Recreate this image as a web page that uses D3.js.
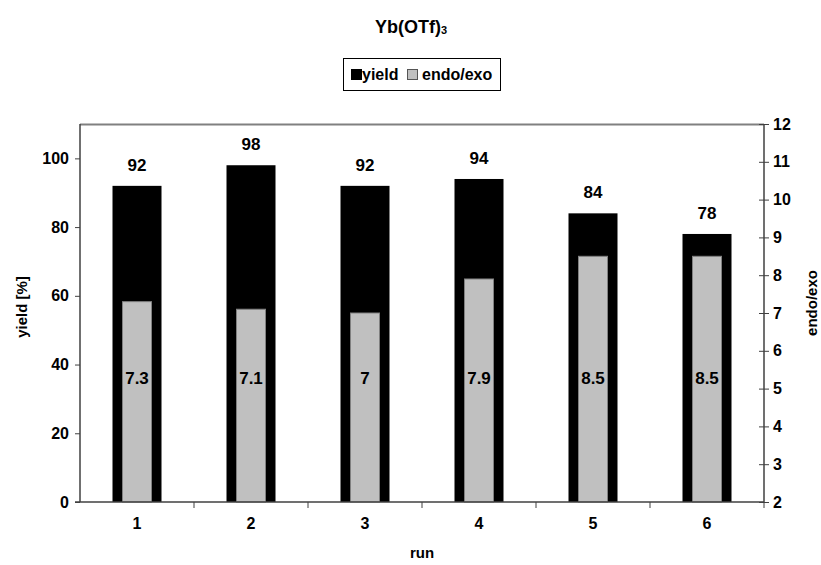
<!DOCTYPE html>
<html>
<head>
<meta charset="utf-8">
<script src="https://cdn.jsdelivr.net/npm/d3@7"></script>
<style>
  html, body { margin: 0; padding: 0; background: #fff; }
  svg { display: block; font-family: "Liberation Sans", Arial, sans-serif; font-weight: bold; }
</style>
</head>
<body>
<svg id="chart" width="821" height="565"></svg>
<script>
// Run numbers, yield (%) and endo/exo ratio per run
const runs = ["1", "2", "3", "4", "5", "6"];
const yieldValues = [92, 98, 92, 94, 84, 78];
const endoExoValues = [7.3, 7.1, 7, 7.9, 8.5, 8.5];
const yieldTicks = [0, 20, 40, 60, 80, 100];
const ratioTicks = [2, 3, 4, 5, 6, 7, 8, 9, 10, 11, 12];

const svg = d3.select("#chart");
const plot = { left: 80, right: 764, top: 124, bottom: 502 };

const x = d3.scaleBand().domain(runs).range([plot.left, plot.right]).paddingInner(0).paddingOuter(0);
const yLeft = d3.scaleLinear().domain([0, 110]).range([plot.bottom, plot.top]);
const yRight = d3.scaleLinear().domain([2, 12]).range([plot.bottom, plot.top]);

const blackW = 49, grayW = 29;

// Title with subscript
const title = svg.append("text").attr("x", 411).attr("y", 33)
  .attr("text-anchor", "middle").style("font-size", "18px");
title.append("tspan").text("Yb(OTf)");
title.append("tspan").attr("dy", 1).style("font-size", "11px").text("3");

// Legend
const lg = svg.append("g");
lg.append("rect").attr("x", 343.5).attr("y", 58.5).attr("width", 157).attr("height", 32)
  .attr("fill", "#fff").attr("stroke", "#000").attr("stroke-width", 1);
lg.append("rect").attr("x", 351).attr("y", 69).attr("width", 11).attr("height", 11).attr("fill", "#000");
lg.append("text").attr("x", 362).attr("y", 80).style("font-size", "16px").text("yield");
lg.append("rect").attr("x", 407.5).attr("y", 69.5).attr("width", 10).attr("height", 10)
  .attr("fill", "#c0c0c0").attr("stroke", "#555");
lg.append("text").attr("x", 422).attr("y", 80).style("font-size", "16px").text("endo/exo");

// Plot frame (top edge)
svg.append("line").attr("x1", plot.left).attr("x2", plot.right).attr("y1", plot.top + 0.5).attr("y2", plot.top + 0.5)
  .attr("stroke", "#808080").attr("stroke-width", 2);

// Yield bars
svg.append("g").selectAll("rect").data(runs).join("rect")
  .attr("x", d => x(d) + x.bandwidth() / 2 - blackW / 2)
  .attr("width", blackW)
  .attr("y", (d, i) => yLeft(yieldValues[i]))
  .attr("height", (d, i) => plot.bottom - yLeft(yieldValues[i]))
  .attr("fill", "#000");

// endo/exo bars (secondary axis)
svg.append("g").selectAll("rect").data(runs).join("rect")
  .attr("x", d => x(d) + x.bandwidth() / 2 - grayW / 2)
  .attr("width", grayW)
  .attr("y", (d, i) => yRight(endoExoValues[i]))
  .attr("height", (d, i) => plot.bottom - yRight(endoExoValues[i]))
  .attr("fill", "#c0c0c0").attr("stroke", "#808080").attr("stroke-width", 1);

// Yield value labels
svg.append("g").selectAll("text").data(runs).join("text")
  .attr("x", d => x(d) + x.bandwidth() / 2)
  .attr("y", (d, i) => yLeft(yieldValues[i]) - 15)
  .attr("text-anchor", "middle").style("font-size", "17px")
  .text((d, i) => yieldValues[i]);

// endo/exo value labels
svg.append("g").selectAll("text").data(runs).join("text")
  .attr("x", d => x(d) + x.bandwidth() / 2)
  .attr("y", 384)
  .attr("text-anchor", "middle").style("font-size", "17px")
  .text((d, i) => endoExoValues[i]);

// Left axis
const axL = svg.append("g").attr("transform", `translate(${plot.left},0)`)
  .call(d3.axisLeft(yLeft).tickValues(yieldTicks).tickSize(5).tickPadding(6));
// Right axis
const axR = svg.append("g").attr("transform", `translate(${plot.right},0)`)
  .call(d3.axisRight(yRight).tickValues(ratioTicks).tickSize(5).tickPadding(4));
axR.selectAll(".tick line").attr("x1", -5);
// Bottom axis with ticks between categories
const axB = svg.append("g").attr("transform", `translate(0,${plot.bottom})`)
  .call(d3.axisBottom(x).tickSize(0).tickPadding(16));
axB.selectAll(".tick text").attr("dy", "0.71em");
axB.append("g").selectAll("line").data(runs.slice(1).concat(["end"])).join("line")
  .attr("x1", (d, i) => plot.left + x.bandwidth() * (i + 1))
  .attr("x2", (d, i) => plot.left + x.bandwidth() * (i + 1))
  .attr("y1", 0).attr("y2", 6).attr("stroke", "#404040");

[axL, axR, axB].forEach(a => {
  a.select(".domain").attr("stroke", "#404040").attr("stroke-width", 1.5);
  a.selectAll(".tick line").attr("stroke", "#404040");
  a.selectAll(".tick text").attr("fill", "#000").style("font-size", "16px")
    .style("font-family", "'Liberation Sans', Arial, sans-serif").style("font-weight", "bold");
});
axL.select(".domain").attr("d", `M0,${plot.top}V${plot.bottom}`);
axR.select(".domain").attr("d", `M0,${plot.top}V${plot.bottom}`);
axB.select(".domain").attr("d", `M${plot.left - 5},0H${plot.right}`);

// Axis titles
svg.append("text").attr("transform", "translate(27,307) rotate(-90)")
  .attr("text-anchor", "middle").style("font-size", "15px").text("yield [%]");
svg.append("text").attr("transform", "translate(817,303) rotate(-90)")
  .attr("text-anchor", "middle").style("font-size", "15px").text("endo/exo");
svg.append("text").attr("x", 422).attr("y", 558)
  .attr("text-anchor", "middle").style("font-size", "15px").text("run");
</script>
</body>
</html>
